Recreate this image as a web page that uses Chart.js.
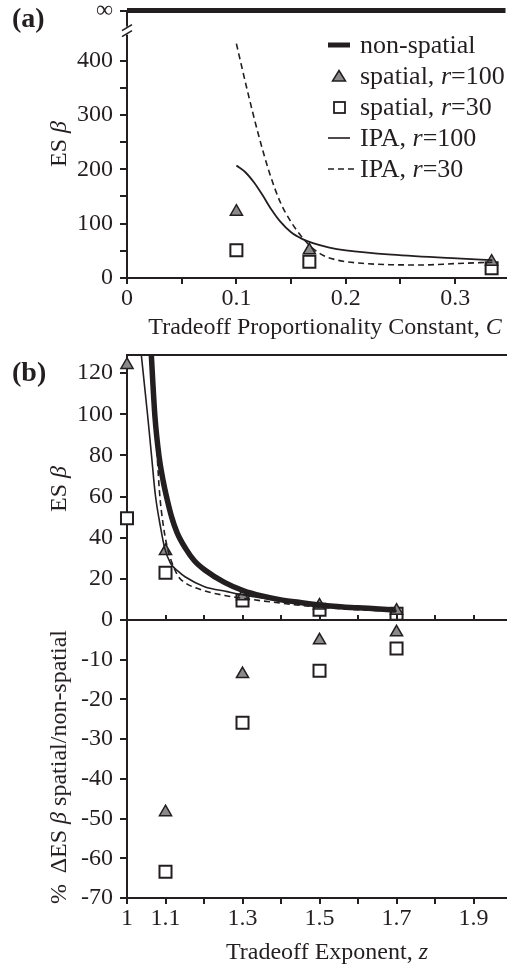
<!DOCTYPE html>
<html>
<head>
<meta charset="utf-8">
<title>ES beta</title>
<script src="https://cdn.jsdelivr.net/npm/chart.js@4.4.1/dist/chart.umd.min.js"></script>
<style>
  html, body { margin: 0; padding: 0; background: #fff; }
  #page { position: relative; width: 516px; height: 968px; overflow: hidden;
          font-family: "Liberation Serif", "Times New Roman", serif; color: #231f20; }
  #page canvas { position: absolute; left: 0; }
  .lbl { position: absolute; white-space: nowrap; line-height: 1; }
  .panel { font-weight: bold; font-size: 28px; left: 12px; }
  .xt { font-size: 24px; transform: translate(-50%, -50%); }
  .yt { font-size: 24px; transform: translate(-50%, -50%) rotate(-90deg); }
  #legend { position: absolute; left: 326px; top: 29px; font-size: 26px; }
  #legend div { display: flex; align-items: center; height: 31px; white-space: nowrap; }
  #legend svg { width: 34px; height: 14px; flex: none; }
</style>
</head>
<body>
<div id="page">
  <canvas id="chartA" width="516" height="340" style="top:0"></canvas>
  <canvas id="chartB" width="516" height="300" style="top:340px"></canvas>
  <canvas id="chartC" width="516" height="368" style="top:600px"></canvas>

  <div class="lbl panel" style="top:4px">(a)</div>
  <div class="lbl panel" style="top:358px">(b)</div>

  <div class="lbl yt" style="left:58px; top:144px">ES <i>β</i></div>
  <div class="lbl xt" style="left:325px; top:326px">Tradeoff Proportionality Constant, <i>C</i></div>
  <div class="lbl yt" style="left:58px; top:489px">ES <i>β</i></div>
  <div class="lbl yt" style="left:58px; top:767px">%&nbsp; ΔES <i>β</i> spatial/non-spatial</div>
  <div class="lbl xt" style="left:327px; top:951px">Tradeoff Exponent, <i>z</i></div>

  <div id="legend">
    <div><svg><line x1="2" y1="7" x2="24" y2="7" stroke="#231f20" stroke-width="5"/></svg><span>non-spatial</span></div>
    <div><svg><polygon points="13,1.5 19.5,12 6.5,12" fill="#8a8a8a" stroke="#231f20" stroke-width="1.5"/></svg><span>spatial, <i>r</i>=100</span></div>
    <div><svg><rect x="8" y="2" width="11" height="11" fill="#fff" stroke="#231f20" stroke-width="1.8"/></svg><span>spatial, <i>r</i>=30</span></div>
    <div><svg><line x1="2" y1="7" x2="24" y2="7" stroke="#231f20" stroke-width="1.6"/></svg><span>IPA, <i>r</i>=100</span></div>
    <div><svg><line x1="2" y1="7" x2="30" y2="7" stroke="#231f20" stroke-width="1.6" stroke-dasharray="6 4"/></svg><span>IPA, <i>r</i>=30</span></div>
  </div>
</div>

<script>
// ---------- panel (a): ES beta against tradeoff constant C ----------
const INF_AT = 492;      // axis value used for the "infinite" non-spatial line
const BREAK_AT = 455;    // axis break drawn here
const aXTicks = [0, 0.05, 0.1, 0.15, 0.2, 0.25, 0.3];
const aXLabels = ['0', '', '0.1', '', '0.2', '', '0.3'];
const aYTicks = [0, 50, 100, 150, 200, 250, 300, 350, 400, INF_AT];
const aYLabels = ['0', '', '100', '', '200', '', '300', '', '400', '∞'];

const aC = [0.1, 0.1667, 0.3333];
const aSpatial100 = [122, 51, 30];
const aSpatial30 = [51, 30, 18];
const aNonSpatialC = [0, 0.346];
const aNonSpatial = [INF_AT, INF_AT];
const aIpa100C = [0.1, 0.108, 0.116, 0.124, 0.132, 0.14, 0.15, 0.16, 0.17, 0.185, 0.2, 0.242, 0.3016, 0.334];
const aIpa100 = [207, 195, 176, 152, 126, 104, 84, 72, 64, 56, 51, 43, 36, 33];
const aIpa30C = [0.1, 0.11, 0.12, 0.13, 0.14, 0.15, 0.16, 0.17, 0.18, 0.19, 0.2, 0.215, 0.24, 0.27, 0.3, 0.334];
const aIpa30 = [431, 345, 265, 195, 140, 103, 75, 54, 41, 34, 30, 27, 24.5, 24, 26.5, 29];

// ---------- panel (b): ES beta and % change against tradeoff exponent z ----------
const bXTicks = [1, 1.1, 1.2, 1.3, 1.4, 1.5, 1.6, 1.7, 1.8, 1.9];
const bXLabels = ['1', '1.1', '', '1.3', '', '1.5', '', '1.7', '', '1.9'];
const bYTicks = [0, 20, 40, 60, 80, 100, 120];
const bYLabels = ['0', '20', '40', '60', '80', '100', '120'];
const cYTicks = [-70, -60, -50, -40, -30, -20, -10, 0];
const cYLabels = ['-70', '-60', '-50', '-40', '-30', '-20', '-10', ''];

const bZ = [1, 1.1, 1.3, 1.5, 1.7];
const bSpatial100 = [124, 33.5, 11.5, 7, 4.5];
const bSpatial30 = [49.5, 23, 9.5, 5, 3];
const bNonSpatialZ = [1.0615, 1.0632, 1.0726, 1.0834, 1.094, 1.1044, 1.116, 1.13, 1.152, 1.175, 1.202, 1.253, 1.303, 1.35, 1.4, 1.45, 1.513, 1.6, 1.698];
const bNonSpatial = [135, 128.8, 98.8, 79.3, 67.5, 58.5, 50, 42.5, 34.8, 28.8, 24.3, 18.3, 14.2, 11.7, 9.8, 8.5, 7.1, 5.9, 4.9];
const bIpa100Z = [1.034, 1.0372, 1.0539, 1.064, 1.0735, 1.0872, 1.098, 1.1127, 1.134, 1.1507, 1.2014, 1.2604, 1.3026, 1.4, 1.5, 1.6, 1.7];
const bIpa100 = [135, 128.8, 98.8, 79.3, 61, 45, 34.8, 27.7, 23.5, 21, 16.2, 13.8, 12.2, 9.3, 6.7, 5.5, 4.6];
const bIpa30Z = [1.072, 1.0776, 1.0845, 1.0935, 1.1052, 1.117, 1.134, 1.1507, 1.2014, 1.2604, 1.3026, 1.4, 1.5, 1.6, 1.7];
const bIpa30 = [102, 82.6, 62, 47, 34.8, 27.7, 21, 18.1, 14.2, 11.7, 10.5, 8.2, 6.2, 5, 4.2];

const cZ = [1.1, 1.3, 1.5, 1.7];
const cSpatial100 = [-48.4, -13.6, -5.1, -3.1];
const cSpatial30 = [-63.4, -25.9, -12.8, -7.2];

const INK = '#231f20';
const GREY = '#8a8a8a';
const FONT = "'Liberation Serif', 'Times New Roman', serif";

const pts = (xs, ys) => xs.map((x, i) => ({ x: x, y: ys[i] }));

function triangles(xs, ys) {
  return { data: pts(xs, ys), showLine: false, pointStyle: 'triangle', pointRadius: 7, pointHoverRadius: 7,
           backgroundColor: GREY, borderColor: INK, borderWidth: 1.5, clip: false };
}
function squares(xs, ys) {
  return { data: pts(xs, ys), showLine: false, pointStyle: 'rect', pointRadius: 8.5, pointHoverRadius: 8.5,
           backgroundColor: '#fff', borderColor: INK, borderWidth: 2, clip: false };
}
function curve(xs, ys, width, dash, clip) {
  return { data: pts(xs, ys), showLine: true, pointRadius: 0, pointHoverRadius: 0, borderColor: INK,
           borderWidth: width, borderDash: dash || [], cubicInterpolationMode: 'monotone', fill: false,
           clip: clip === undefined ? 0 : clip };
}

// one linear axis; ticks come from the arrays above, size of the axis box is fixed
function axis(o) {
  return {
    type: 'linear', position: o.position, min: o.min, max: o.max, display: o.display !== false,
    afterBuildTicks: s => { s.ticks = o.ticks.map(v => ({ value: v })); },
    afterFit: s => {
      if (o.position === 'left') { s.width = 127; s.paddingTop = 0; s.paddingBottom = 0; }
      else { s.height = o.size || 0; s.paddingLeft = 0; s.paddingRight = 0; }
    },
    ticks: { display: !!o.labels, callback: (v, i) => (o.labels ? o.labels[i] : ''),
             font: { family: FONT, size: 24 }, color: INK, padding: o.pad || 0,
             autoSkip: false, maxRotation: 0, minRotation: 0 },
    grid: { drawOnChartArea: false, drawTicks: !!o.tick, tickLength: o.tick || 0, color: INK, lineWidth: 2 },
    border: { display: true, color: INK, width: 2 }
  };
}

const base = {
  responsive: false,
  animation: false,
  events: [],
  plugins: { legend: { display: false }, tooltip: { enabled: false } }
};

// break marks on the y axis of panel (a)
const axisBreak = {
  id: 'axisBreak',
  afterDraw(chart) {
    const s = chart.scales.y;
    const ctx = chart.ctx;
    const py = s.getPixelForValue(BREAK_AT);
    const px = s.right;
    ctx.save();
    ctx.fillStyle = '#fff';
    ctx.fillRect(px - 3, py - 4, 6, 8);
    ctx.strokeStyle = INK;
    ctx.lineWidth = 1.6;
    [-3, 3].forEach(d => {
      ctx.beginPath();
      ctx.moveTo(px - 5, py + d + 3);
      ctx.lineTo(px + 5, py + d - 3);
      ctx.stroke();
    });
    ctx.restore();
  }
};

// first dataset is painted last, so curves go on top of the markers
new Chart(document.getElementById('chartA'), {
  type: 'scatter',
  data: { datasets: [
    curve(aIpa100C, aIpa100, 1.8),
    curve(aIpa30C, aIpa30, 1.6, [6, 4]),
    curve(aNonSpatialC, aNonSpatial, 5, null, false),
    triangles(aC, aSpatial100),
    squares(aC, aSpatial30)
  ] },
  options: Object.assign({}, base, {
    layout: { padding: { top: 10, left: 0, right: 0, bottom: 0 } },
    scales: {
      x: axis({ position: 'bottom', min: 0, max: 0.346, ticks: aXTicks, labels: aXLabels, tick: 6, size: 62 }),
      y: axis({ position: 'left', min: 0, max: INF_AT, ticks: aYTicks, labels: aYLabels, tick: 7, pad: 7 })
    }
  }),
  plugins: [axisBreak]
});

new Chart(document.getElementById('chartB'), {
  type: 'scatter',
  data: { datasets: [
    curve(bIpa30Z, bIpa30, 1.6, [6, 4]),
    curve(bIpa100Z, bIpa100, 1.6),
    curve(bNonSpatialZ, bNonSpatial, 5.5),
    triangles(bZ, bSpatial100),
    squares(bZ, bSpatial30)
  ] },
  options: Object.assign({}, base, {
    layout: { padding: { top: 15, left: 0, right: 0, bottom: 20 } },
    scales: {
      x: axis({ position: 'bottom', min: 1, max: 1.983, ticks: bXTicks, display: false, size: 0 }),
      xTop: axis({ position: 'top', min: 1, max: 1.983, ticks: bXTicks, size: 0 }),
      y: axis({ position: 'left', min: 0, max: 128.8, ticks: bYTicks, labels: bYLabels, tick: 7, pad: 7 })
    }
  })
});

new Chart(document.getElementById('chartC'), {
  type: 'scatter',
  data: { datasets: [
    triangles(cZ, cSpatial100),
    squares(cZ, cSpatial30)
  ] },
  options: Object.assign({}, base, {
    layout: { padding: { top: 0, left: 0, right: 0, bottom: 0 } },
    scales: {
      x: axis({ position: 'bottom', min: 1, max: 1.983, ticks: bXTicks, labels: bXLabels, tick: 6, size: 70 }),
      xTop: axis({ position: 'top', min: 1, max: 1.983, ticks: bXTicks, tick: 5, size: 20 }),
      y: axis({ position: 'left', min: -70, max: 0, ticks: cYTicks, labels: cYLabels, tick: 7, pad: 7 })
    }
  })
});
</script>
</body>
</html>
